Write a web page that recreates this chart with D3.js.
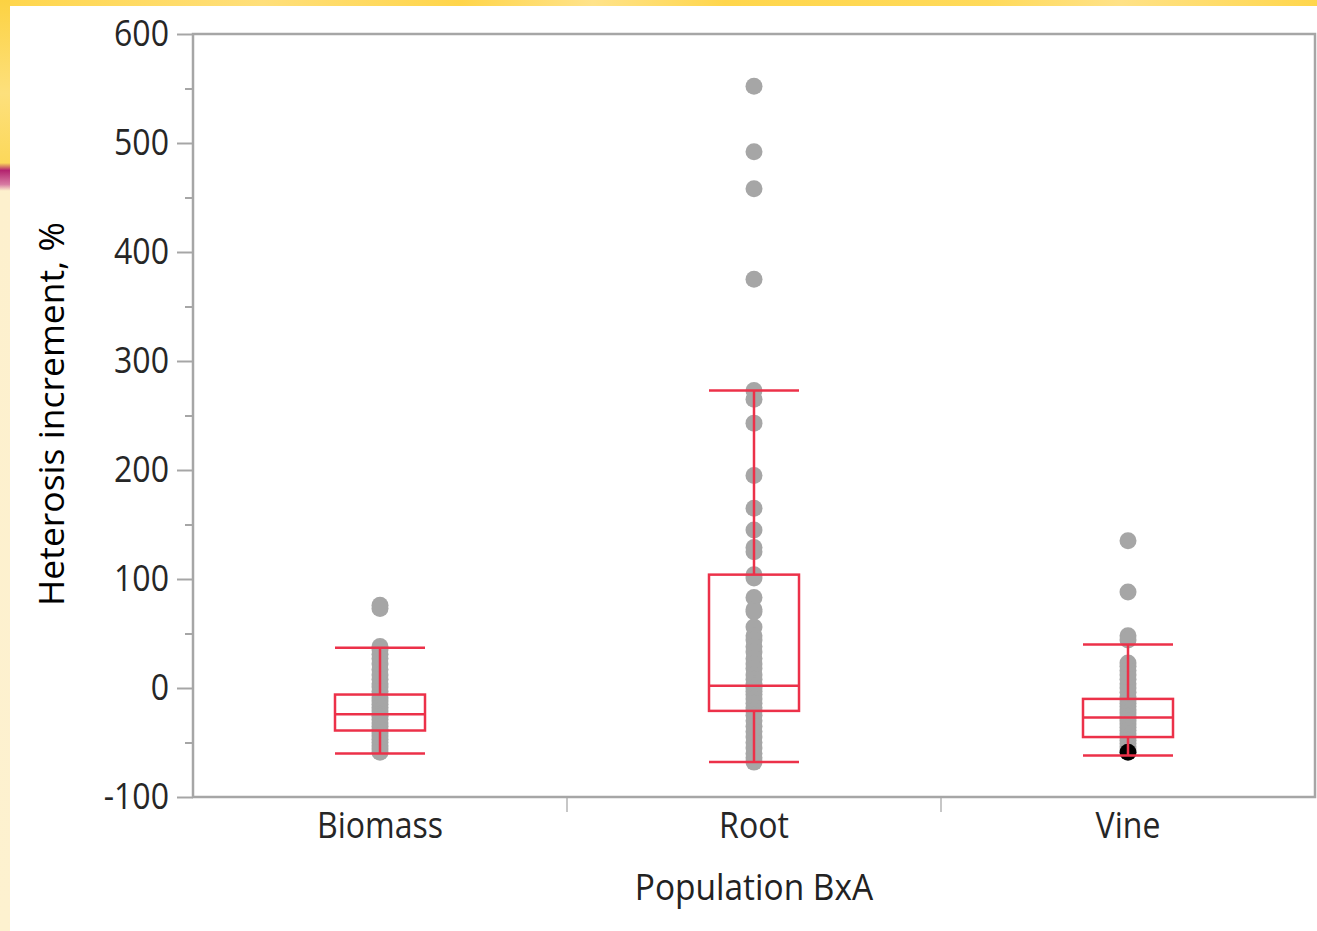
<!DOCTYPE html>
<html>
<head>
<meta charset="utf-8">
<script src="https://cdn.jsdelivr.net/npm/d3@7"></script>
<style>
  html, body { margin: 0; padding: 0; background: #fff; overflow: hidden; }
  svg { display: block; }
</style>
</head>
<body>
<div id="chart"></div>
<script>
const categories = ["Biomass", "Root", "Vine"];

const biomassValues = [76, 73, 38, 35, 31, 27, 22, 17, 12, 8, 4, 1, -3, -6, -9, -12, -15, -18, -21, -24,
  -26, -29, -32, -35, -38, -41, -44, -47, -50, -53, -56, -59];
const rootValues = [552, 492, 458, 375, 273, 265, 243, 195, 165, 145, 129, 125, 104, 101, 83, 72, 70, 56,
  48, 44, 38, 33, 27, 22, 18, 12, 8, 4, 2, 0, -3, -6, -10, -14, -18, -21, -25, -30, -35, -40, -45, -50,
  -55, -60, -64, -68];
const vineValues = [135, 88, 48, 44, 23, 20, 16, 12, 8, 4, 0, -4, -8, -11, -14, -17, -20, -23, -26, -28,
  -30, -33, -36, -39, -42, -45, -48, -51, -54, -57];
const selectedPoint = { category: "Vine", value: -59 };

// box statistics
const lowerWhisker = [-60, -68, -62];
const firstQuartile = [-39, -21, -45];
const medians = [-24, 2, -27];
const thirdQuartile = [-6, 104, -10];
const upperWhisker = [37, 273, 40];

const yTicks = [-100, 0, 100, 200, 300, 400, 500, 600];
const yMinorTicks = [-50, 50, 150, 250, 350, 450, 550];

const width = 1317, height = 931;
const margin = { top: 34, right: 1, bottom: 134, left: 193 };
const boxColor = "#ec3149";
const axisColor = "#a6a6a6";
const labelFont = "'Open Sans', 'Noto Sans', sans-serif";

const svg = d3.select("#chart").append("svg")
  .attr("width", width)
  .attr("height", height);

// slide background
const defs = svg.append("defs");
const sideGrad = defs.append("linearGradient")
  .attr("id", "side").attr("x1", 0).attr("y1", 0).attr("x2", 0).attr("y2", 1);
[[0, "#fcd242"], [0.1, "#fde07c"], [0.175, "#fcd85a"], [0.183, "#b3236f"], [0.198, "#d77aa2"],
 [0.205, "#fdf0cd"], [1, "#fdf1cf"]].forEach(([o, c]) => sideGrad.append("stop").attr("offset", o).attr("stop-color", c));
const topGrad = defs.append("linearGradient").attr("id", "top");
[[0, "#ffd64c"], [0.2, "#ffdf7a"], [0.35, "#ffd54a"], [0.45, "#ffe38a"], [0.55, "#ffd64c"],
 [0.75, "#ffda5a"], [0.85, "#ffe287"], [1, "#ffd64c"]].forEach(([o, c]) => topGrad.append("stop").attr("offset", o).attr("stop-color", c));

svg.append("rect").attr("width", width).attr("height", 6).attr("fill", "url(#top)");
svg.append("rect").attr("y", 0).attr("width", 10).attr("height", height).attr("fill", "url(#side)");
svg.append("rect").attr("x", 10).attr("y", 6).attr("width", width - 10).attr("height", height - 6).attr("fill", "#fff");

const plotW = width - margin.left - margin.right - 1;
const plotH = height - margin.top - margin.bottom;

const x = d3.scaleBand()
  .domain(categories)
  .range([margin.left, margin.left + plotW])
  .padding(0);

const y = d3.scaleLinear()
  .domain([-100, 600])
  .range([margin.top + plotH, margin.top]);

function squeeze(sel, k) {
  sel.each(function() {
    const w = this.getComputedTextLength();
    d3.select(this).attr("textLength", w * k).attr("lengthAdjust", "spacingAndGlyphs");
  });
}

// y axis
const yAxis = svg.append("g")
  .attr("transform", `translate(${margin.left},0)`)
  .call(d3.axisLeft(y).tickValues(yTicks).tickSize(16).tickPadding(8).tickFormat(d => String(d)));
yAxis.select(".domain").remove();
yAxis.selectAll(".tick line").attr("stroke", axisColor).attr("stroke-width", 2);
yAxis.selectAll(".tick text")
  .attr("fill", "#262626")
  .style("font-family", labelFont)
  .style("font-size", "36px")
  .call(squeeze, 0.89);

svg.append("g")
  .attr("transform", `translate(${margin.left},0)`)
  .call(d3.axisLeft(y).tickValues(yMinorTicks).tickSize(8).tickFormat(""))
  .call(g => g.select(".domain").remove())
  .call(g => g.selectAll(".tick line").attr("stroke", axisColor).attr("stroke-width", 2));

// x axis labels
const xAxis = svg.append("g")
  .attr("transform", `translate(0,${margin.top + plotH})`)
  .call(d3.axisBottom(x).tickSize(0).tickPadding(15));
xAxis.select(".domain").remove();
xAxis.selectAll(".tick text")
  .attr("fill", "#262626")
  .style("font-family", labelFont)
  .style("font-size", "36px")
  .call(squeeze, 0.89);

// separators between categories
svg.append("g").selectAll("line")
  .data(categories.slice(1))
  .join("line")
    .attr("x1", d => x(d))
    .attr("x2", d => x(d))
    .attr("y1", margin.top + plotH)
    .attr("y2", margin.top + plotH + 15)
    .attr("stroke", "#b4b4b4")
    .attr("stroke-width", 1.5);

// frame
svg.append("rect")
  .attr("x", margin.left)
  .attr("y", margin.top)
  .attr("width", plotW)
  .attr("height", plotH)
  .attr("fill", "none")
  .attr("stroke", axisColor)
  .attr("stroke-width", 2.5);

// axis titles
svg.append("text")
  .attr("x", margin.left + plotW / 2)
  .attr("y", 900)
  .attr("text-anchor", "middle")
  .attr("fill", "#222")
  .style("font-family", labelFont)
  .style("font-size", "36px")
  .text("Population BxA")
  .call(squeeze, 0.93);

svg.append("text")
  .attr("transform", `translate(66,414) rotate(-90)`)
  .attr("text-anchor", "middle")
  .attr("dy", "-0.05em")
  .attr("fill", "#000")
  .style("font-family", labelFont)
  .style("font-size", "35.5px")
  .text("Heterosis increment, %");

// points
const points = [
  ...biomassValues.map(v => ({ category: "Biomass", value: v })),
  ...rootValues.map(v => ({ category: "Root", value: v })),
  ...vineValues.map(v => ({ category: "Vine", value: v }))
];
const cx = d => x(d) + x.bandwidth() / 2;

svg.append("g").selectAll("circle")
  .data(points)
  .join("circle")
    .attr("cx", d => cx(d.category))
    .attr("cy", d => y(d.value))
    .attr("r", 8.5)
    .attr("fill", "#a6a6a6");

svg.append("circle")
  .attr("cx", cx(selectedPoint.category))
  .attr("cy", y(selectedPoint.value))
  .attr("r", 8.5)
  .attr("fill", "#000");

// boxes
const stats = categories.map((c, i) => ({
  category: c, lo: lowerWhisker[i], q1: firstQuartile[i], med: medians[i], q3: thirdQuartile[i], hi: upperWhisker[i]
}));
const boxW = 90;
const boxes = svg.append("g")
  .attr("fill", "none")
  .attr("stroke", boxColor)
  .attr("stroke-width", 2.5)
  .selectAll("g")
  .data(stats)
  .join("g");

boxes.append("line")
  .attr("x1", d => cx(d.category)).attr("x2", d => cx(d.category))
  .attr("y1", d => y(d.hi)).attr("y2", d => y(d.q3));
boxes.append("line")
  .attr("x1", d => cx(d.category)).attr("x2", d => cx(d.category))
  .attr("y1", d => y(d.q1)).attr("y2", d => y(d.lo));
boxes.append("rect")
  .attr("x", d => cx(d.category) - boxW / 2)
  .attr("y", d => y(d.q3))
  .attr("width", boxW)
  .attr("height", d => y(d.q1) - y(d.q3));
boxes.append("line")
  .attr("x1", d => cx(d.category) - boxW / 2).attr("x2", d => cx(d.category) + boxW / 2)
  .attr("y1", d => y(d.med)).attr("y2", d => y(d.med));
boxes.append("line")
  .attr("x1", d => cx(d.category) - boxW / 2).attr("x2", d => cx(d.category) + boxW / 2)
  .attr("y1", d => y(d.hi)).attr("y2", d => y(d.hi));
boxes.append("line")
  .attr("x1", d => cx(d.category) - boxW / 2).attr("x2", d => cx(d.category) + boxW / 2)
  .attr("y1", d => y(d.lo)).attr("y2", d => y(d.lo));
</script>
</body>
</html>
